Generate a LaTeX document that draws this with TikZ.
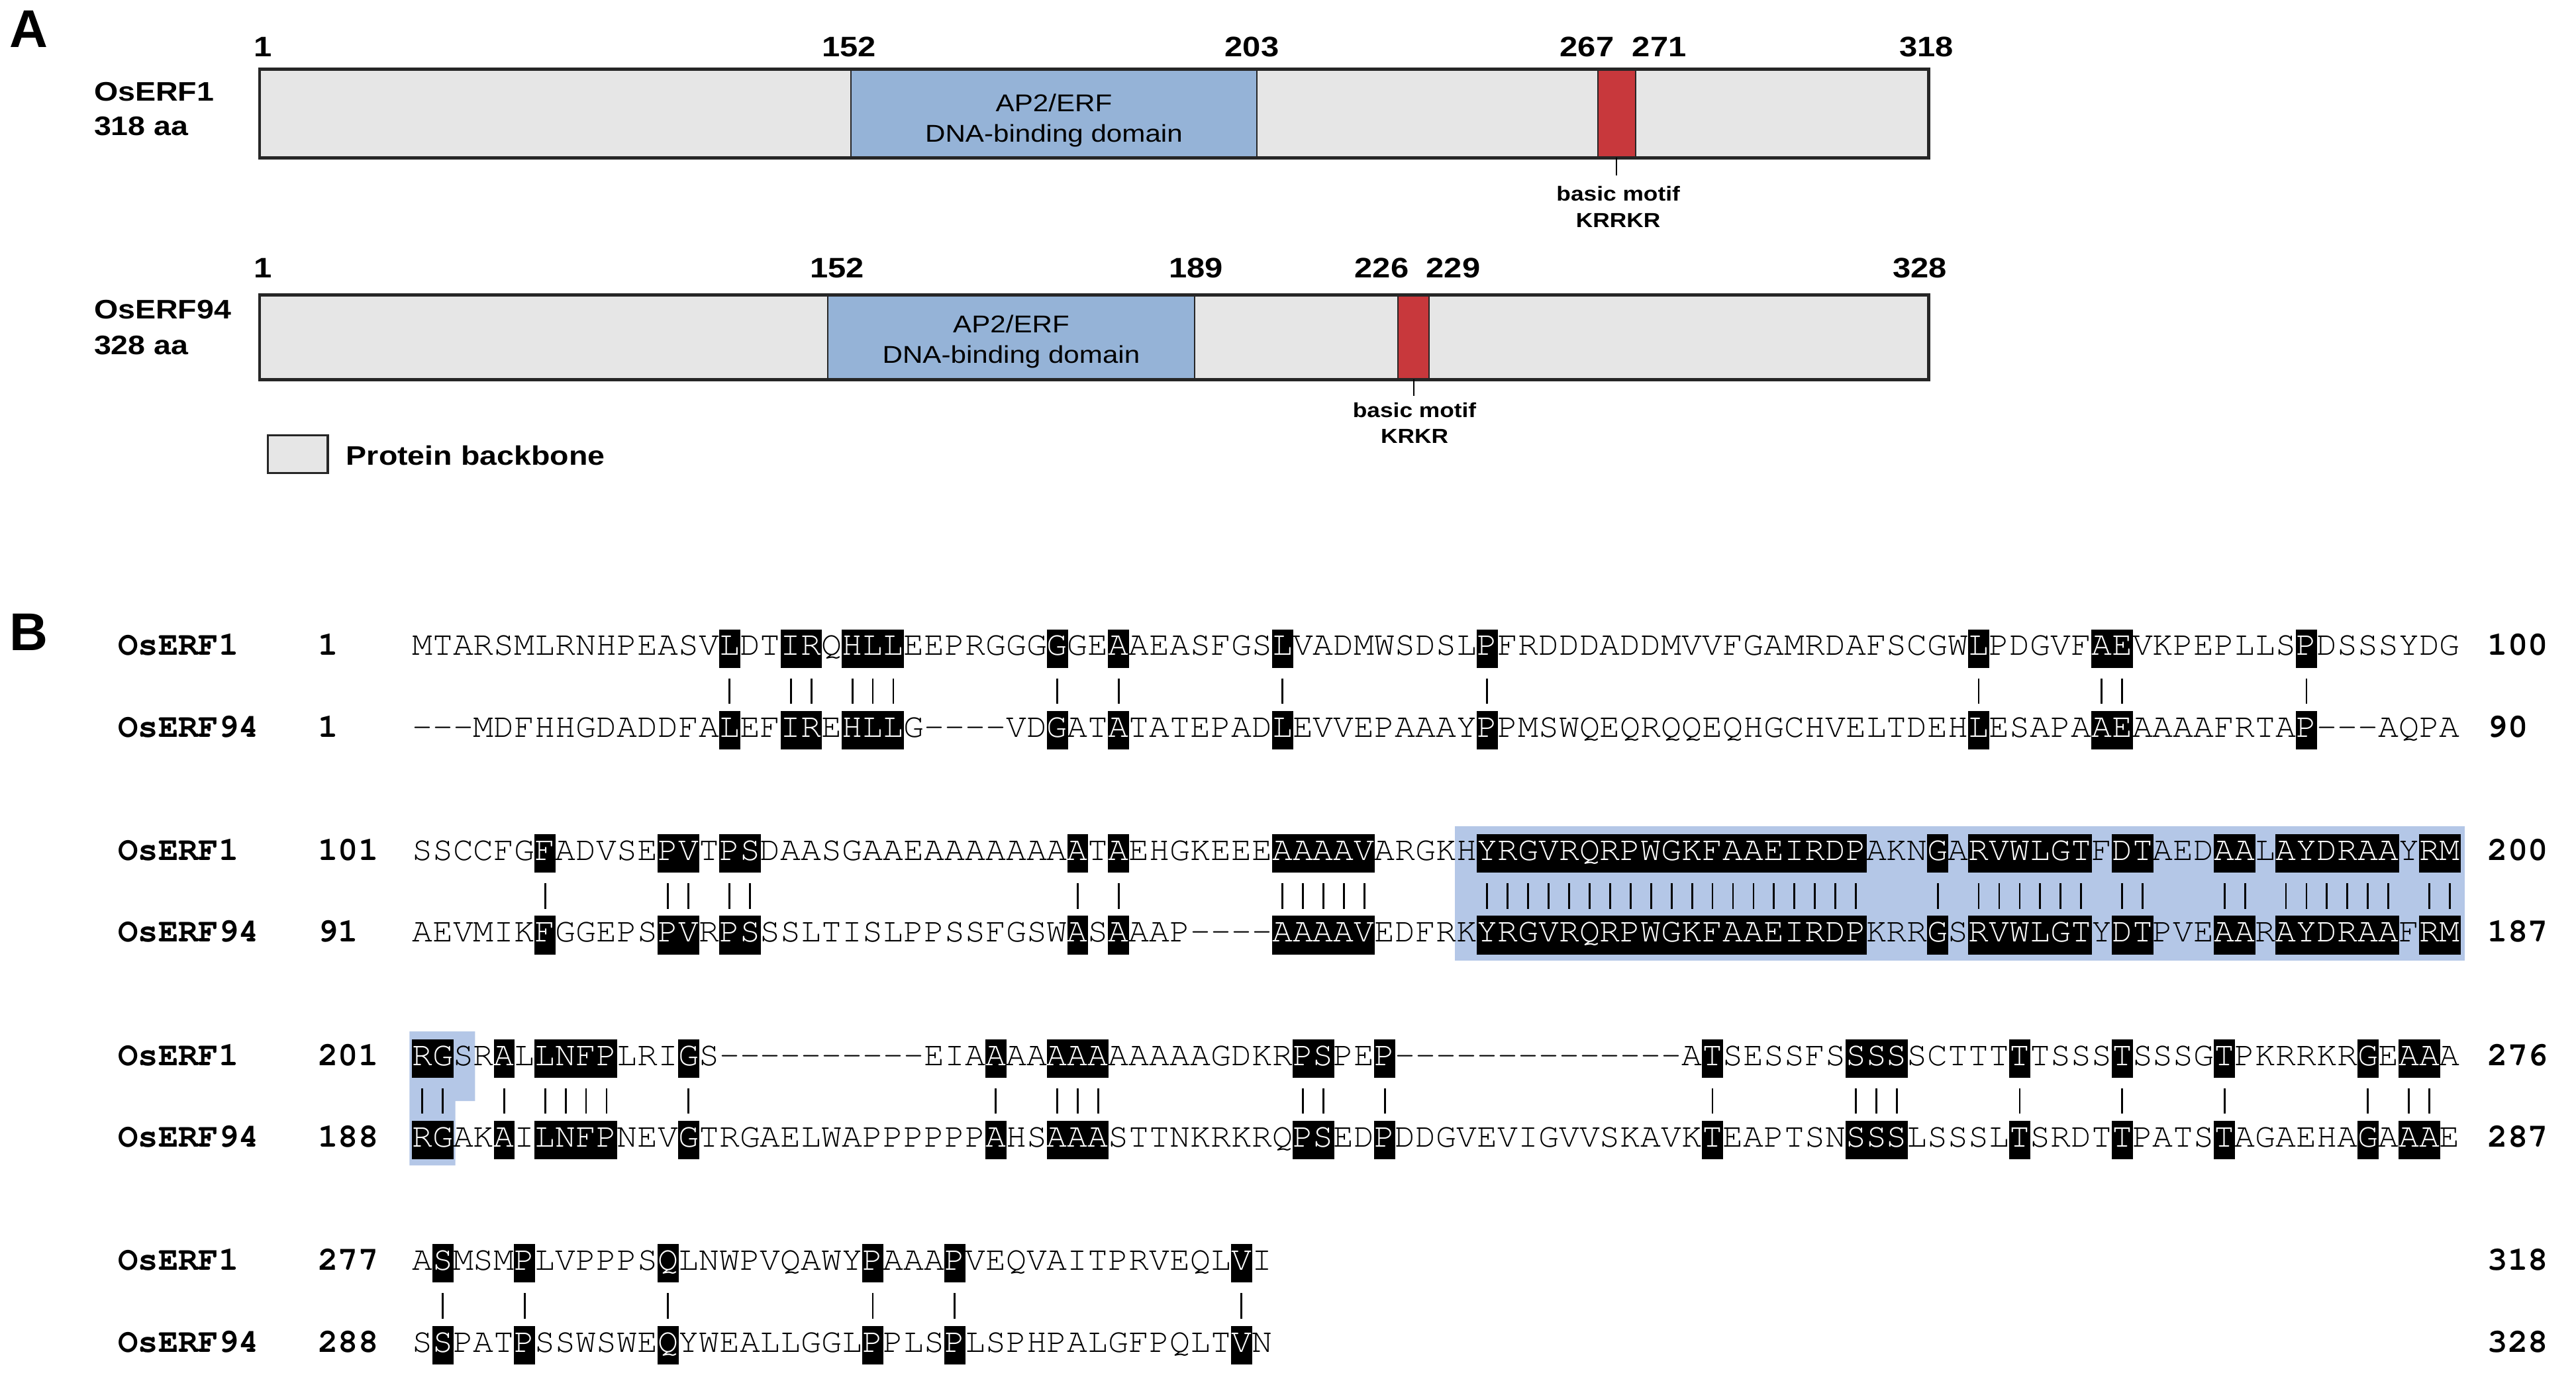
\documentclass[tikz,border=0pt]{standalone}
\usepackage[T1]{fontenc}
\usepackage{fontspec}
\usepackage{xstring}
\setsansfont{Liberation Sans}
\newfontfamily\panelfont[FakeStretch=1.15]{Liberation Sans}
\newcommand\courfont{\fontencoding{T1}\fontfamily{pcr}\selectfont}
\definecolor{backbone}{HTML}{E6E6E6}
\definecolor{domainblue}{HTML}{95B3D7}
\definecolor{motifred}{HTML}{C8383C}
\definecolor{shadeblue}{HTML}{B4C7E7}
\newcommand\erfAa{MTARSMLRNHPEASVLDTIRQHLLEEPRGGGGGEAAEASFGSLVADMWSDSLPFRDDDADDMVVFGAMRDAFSCGWLPDGVFAEVKPEPLLSPDSSSYDG}
\newcommand\erfBa{---MDFHHGDADDFALEFIREHLLG----VDGATATATEPADLEVVEPAAAYPPMSWQEQRQQEQHGCHVELTDEHLESAPAAEAAAAFRTAP---AQPA}
\newcommand\erfAb{SSCCFGFADVSEPVTPSDAASGAAEAAAAAAAATAEHGKEEEAAAAVARGKHYRGVRQRPWGKFAAEIRDPAKNGARVWLGTFDTAEDAALAYDRAAYRM}
\newcommand\erfBb{AEVMIKFGGEPSPVRPSSSLTISLPPSSFGSWASAAAP----AAAAVEDFRKYRGVRQRPWGKFAAEIRDPKRRGSRVWLGTYDTPVEAARAYDRAAFRM}
\newcommand\erfAc{RGSRALLNFPLRIGS----------EIAAAAAAAAAAAAGDKRPSPEP--------------ATSESSFSSSSSCTTTTTSSSTSSSGTPKRRKRGEAAA}
\newcommand\erfBc{RGAKAILNFPNEVGTRGAELWAPPPPPPAHSAAASTTNKRKRQPSEDPDDGVEVIGVVSKAVKTEAPTSNSSSLSSSLTSRDTTPATSTAGAEHAGAAAE}
\newcommand\erfAd{ASMSMPLVPPPSQLNWPVQAWYPAAAPVEQVAITPRVEQLVI}
\newcommand\erfBd{SSPATPSSWSWEQYWEALLGGLPPLSPLSPHPALGFPQLTVN}
\newcommand\matcha{16,19,20,22,23,24,32,35,43,53,77,83,84,93}
\newcommand\matchb{7,13,14,16,17,33,35,43,44,45,46,47,53,54,55,56,57,58,59,60,61,62,63,64,65,66,67,68,69,70,71,75,77,78,79,80,81,82,84,85,89,90,92,93,94,95,96,97,99,100}
\newcommand\matchc{1,2,5,7,8,9,10,14,29,32,33,34,44,45,48,64,71,72,73,79,84,89,96,98,99}
\newcommand\matchd{2,6,13,23,27,41}
\newcommand\seqline[4]{%
  \StrLen{#3}[\seqlen]%
  \foreach \c in {1,...,\seqlen}{%
    \StrChar{#3}{\c}[\ch]%
    \IfSubStr{,#4,}{,\c,}{%
      \filldraw[black,line width=0.2pt] ({238.334+12.466*\c},#2-15.7) rectangle ({250.8+12.466*\c},#2+7.3);
      \node[res,text=white] (#1-\c) at ({244.567+12.466*\c},#2) {\ch};}{%
      \node[res] (#1-\c) at ({244.567+12.466*\c},#2) {\ch};}}}
\newcommand\matchbars[2]{%
  \foreach \c in #2
    \draw[line width=0.8pt] ({244.567+12.466*\c},#1+14) -- ({244.567+12.466*\c},#1+29.5);}
\begin{document}
\begin{tikzpicture}[x=0.025cm,y=-0.025cm,
  res/.style={anchor=base,inner sep=0pt,font=\courfont\fontsize{14.78}{16}\selectfont},
  seqlab/.style={anchor=base west,inner sep=0pt,font=\courfont\bfseries\fontsize{14.5}{16}\selectfont},
  protein/.style={draw=black!85,fill=backbone,line width=1pt},
  pname/.style={anchor=base west,inner sep=0pt,font=\panelfont\bfseries\fontsize{11.6}{13}\selectfont},
  pnum/.style={anchor=base,inner sep=0pt,font=\panelfont\bfseries\fontsize{12.2}{14}\selectfont},
  dtext/.style={anchor=base,inner sep=0pt,font=\panelfont\fontsize{10.5}{12}\selectfont},
  mtext/.style={anchor=base,inner sep=0pt,font=\panelfont\bfseries\fontsize{8.8}{10}\selectfont},
  panel/.style={inner sep=0pt,font=\sffamily\bfseries\fontsize{23}{26}\selectfont}]
  \fill[white] (0,0) rectangle (1568,842);
  \useasboundingbox (0,0) rectangle (1568,842);
  \node[panel] (pa) at (17.5,17.5) {A};
  \node[panel] (pb) at (17.5,385) {B};

  \filldraw[protein] (158,42) rectangle (1174,96);
  \filldraw[draw=black!85,fill=domainblue,line width=0.6pt] (518,42) rectangle (765,96);
  \filldraw[draw=black!85,fill=motifred,line width=0.6pt] (972.6,42) rectangle (995.6,96);
  \draw[line width=1.4pt,black!85] (158,42) rectangle (1174,96);
  \node[pname] (n1) at (57,61.5) {OsERF1};
  \node[pname] (l1) at (57,82.5) {318 aa};
  \node[pnum] (a1) at (160,34.3) {1};
  \node[pnum] (a152) at (516.7,34.3) {152};
  \node[pnum] (a203) at (762,34.3) {203};
  \node[pnum] (a267) at (966,34.3) {267};
  \node[pnum] (a271) at (1010,34.3) {271};
  \node[pnum] (a318) at (1172.7,34.3) {318};
  \node[dtext] (d1a) at (641.5,68) {AP2/ERF};
  \node[dtext] (d1b) at (641.5,86.6) {DNA-binding domain};
  \coordinate (t1) at (984,96);
  \draw[line width=0.6pt] (t1) -- ++(0,11);
  \node[mtext] (m1a) at (985,122.4) {basic motif};
  \node[mtext] (m1b) at (985,138.3) {KRRKR};

  \filldraw[protein] (158,179.5) rectangle (1174,231);
  \filldraw[draw=black!85,fill=domainblue,line width=0.6pt] (504,179.5) rectangle (727,231);
  \filldraw[draw=black!85,fill=motifred,line width=0.6pt] (851,179.5) rectangle (870,231);
  \draw[line width=1.4pt,black!85] (158,179.5) rectangle (1174,231);
  \node[pname] (n2) at (57,194) {OsERF94};
  \node[pname] (l2) at (57,216) {328 aa};
  \node[pnum] (b1) at (160,169) {1};
  \node[pnum] (b152) at (509.6,169) {152};
  \node[pnum] (b189) at (728,169) {189};
  \node[pnum] (b226) at (841,169) {226};
  \node[pnum] (b229) at (884.6,169) {229};
  \node[pnum] (b328) at (1168.6,169) {328};
  \node[dtext] (d2a) at (615.5,202.5) {AP2/ERF};
  \node[dtext] (d2b) at (615.5,221) {DNA-binding domain};
  \coordinate (t2) at (860.5,231);
  \draw[line width=0.6pt] (t2) -- ++(0,10);
  \node[mtext] (m2a) at (861,254) {basic motif};
  \node[mtext] (m2b) at (861,270) {KRKR};

  \filldraw[protein] (163,265) rectangle (199.5,288);
  \node[pname] (leg) at (210.5,283) {Protein backbone};

  \fill[shadeblue] (885.6,503.1) rectangle (1500.4,584.8);
  \fill[shadeblue] (249.3,627.9) -- (289.2,627.9) -- (289.2,670.4) -- (277.2,670.4) -- (277.2,709.6) -- (249.3,709.6) -- cycle;

  \node[seqlab] (s1a) at (71.6,399) {OsERF1};
  \node[seqlab] (s1b) at (71.6,448.7) {OsERF94};
  \node[seqlab] (i1a) at (193.4,399) {1};
  \node[seqlab] (i1b) at (193.4,448.7) {1};
  \node[seqlab] (e1a) at (1514,399) {100};
  \node[seqlab] (e1b) at (1514,448.7) {90};
  \seqline{ra}{399}{\erfAa}{\matcha}
  \seqline{rb}{448.7}{\erfBa}{\matcha}
  \matchbars{399}{\matcha}

  \node[seqlab] (s2a) at (71.6,523.8) {OsERF1};
  \node[seqlab] (s2b) at (71.6,573.5) {OsERF94};
  \node[seqlab] (i2a) at (193.4,523.8) {101};
  \node[seqlab] (i2b) at (193.4,573.5) {91};
  \node[seqlab] (e2a) at (1514,523.8) {200};
  \node[seqlab] (e2b) at (1514,573.5) {187};
  \seqline{rc}{523.8}{\erfAb}{\matchb}
  \seqline{rd}{573.5}{\erfBb}{\matchb}
  \matchbars{523.8}{\matchb}

  \node[seqlab] (s3a) at (71.6,648.6) {OsERF1};
  \node[seqlab] (s3b) at (71.6,698.3) {OsERF94};
  \node[seqlab] (i3a) at (193.4,648.6) {201};
  \node[seqlab] (i3b) at (193.4,698.3) {188};
  \node[seqlab] (e3a) at (1514,648.6) {276};
  \node[seqlab] (e3b) at (1514,698.3) {287};
  \seqline{re}{648.6}{\erfAc}{\matchc}
  \seqline{rf}{698.3}{\erfBc}{\matchc}
  \matchbars{648.6}{\matchc}

  \node[seqlab] (s4a) at (71.6,773.4) {OsERF1};
  \node[seqlab] (s4b) at (71.6,823.1) {OsERF94};
  \node[seqlab] (i4a) at (193.4,773.4) {277};
  \node[seqlab] (i4b) at (193.4,823.1) {288};
  \node[seqlab] (e4a) at (1514,773.4) {318};
  \node[seqlab] (e4b) at (1514,823.1) {328};
  \seqline{rg}{773.4}{\erfAd}{\matchd}
  \seqline{rh}{823.1}{\erfBd}{\matchd}
  \matchbars{773.4}{\matchd}
\end{tikzpicture}
\end{document}
